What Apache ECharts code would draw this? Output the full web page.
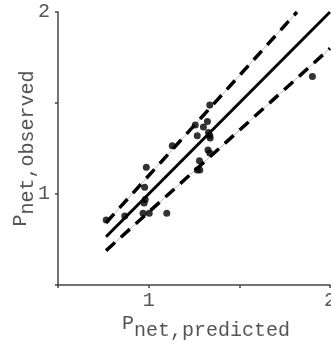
<!DOCTYPE html>
<html>
<head>
<meta charset="utf-8">
<script src="https://cdn.jsdelivr.net/npm/echarts@6/dist/echarts.min.js"></script>
<style>html,body{margin:0;padding:0;background:#fff;}#c{width:331px;height:346px;}</style>
</head>
<body>
<div id="c"></div>
<script>
// Observed vs predicted points
var predicted = [0.766, 0.868, 0.969, 1.003, 1.100, 0.975, 0.981, 0.978, 0.987, 1.130, 1.257, 1.268, 1.302, 1.324, 1.337, 1.330, 1.337, 1.339, 1.327, 1.337, 1.280, 1.268, 1.282, 1.903];
var observed  = [0.857, 0.879, 0.894, 0.894, 0.894, 0.951, 0.970, 1.037, 1.147, 1.265, 1.379, 1.320, 1.368, 1.398, 1.489, 1.338, 1.321, 1.308, 1.242, 1.225, 1.183, 1.132, 1.132, 1.645];
// Reference lines (1:1 and ±10%)
var lineOneToOne = [[0.765, 0.765], [2.0, 2.0]];
var lineUpper = [[0.765, 0.842], [1.818, 2.0]];
var lineLower = [[0.765, 0.689], [2.0, 1.8]];
var xTicks = [0.5, 1, 1.5, 2];
var yTicks = [0.5, 1, 1.5, 2];

var pts = predicted.map(function (x, i) { return [x, observed[i]]; });
var FONT = '"Courier New","Liberation Mono",monospace';
var tickFmt = function (v) { return (Math.abs(v - Math.round(v)) < 1e-9) ? String(Math.round(v)) : ''; };
var axisCommon = {
  type: 'value',
  min: xTicks[0], max: xTicks[xTicks.length - 1], interval: 0.5,
  splitLine: {show: false},
  axisLine: {show: true, onZero: false, lineStyle: {color: '#444', width: 1.5}},
  axisTick: {show: true, length: 3, lineStyle: {color: '#444', width: 1.5}},
  axisLabel: {formatter: tickFmt, color: '#555', fontFamily: FONT, fontSize: 20}
};
var rich = {
  p: {fontFamily: FONT, fontSize: 20, color: '#555', lineHeight: 20, verticalAlign: 'top'},
  s: {fontFamily: FONT, fontSize: 20, color: '#555', lineHeight: 34, verticalAlign: 'middle'}
};
var chart = echarts.init(document.getElementById('c'), null, {renderer: 'canvas'});
chart.setOption({
  animation: false,
  grid: {left: 58, right: 1, top: 12, bottom: 61, containLabel: false, outerBoundsMode: 'none'},
  xAxis: Object.assign({}, axisCommon, {
    axisLabel: Object.assign({}, axisCommon.axisLabel, {margin: 6}),
    name: '{p|P}{s|net,predicted}', nameLocation: 'middle', nameGap: 29, nameMoveOverlap: false,
    nameTextStyle: {rich: rich, padding: [0, 0, 0, 24]}
  }),
  yAxis: Object.assign({}, axisCommon, {
    min: yTicks[0], max: yTicks[yTicks.length - 1],
    axisLabel: Object.assign({}, axisCommon.axisLabel, {margin: 8}),
    name: '{p|P}{s|net,observed}', nameLocation: 'middle', nameGap: 13, nameMoveOverlap: false,
    nameTextStyle: {rich: rich}
  }),
  series: [
    {type: 'line', data: lineUpper, symbol: 'none', lineStyle: {color: '#bbb', width: 1}, z: 1},
    {type: 'line', data: lineUpper, symbol: 'none', lineStyle: {color: '#000', width: 3.5, type: [12, 8]}, z: 2},
    {type: 'line', data: lineLower, symbol: 'none', lineStyle: {color: '#bbb', width: 1}, z: 1},
    {type: 'line', data: lineLower, symbol: 'none', lineStyle: {color: '#000', width: 3.5, type: [12, 8]}, z: 2},
    {type: 'line', data: lineOneToOne, symbol: 'none', lineStyle: {color: '#000', width: 3}, z: 2},
    {type: 'scatter', data: pts, symbol: 'circle', symbolSize: 7, itemStyle: {color: '#000'}, z: 3}
  ]
});
</script>
</body>
</html>
